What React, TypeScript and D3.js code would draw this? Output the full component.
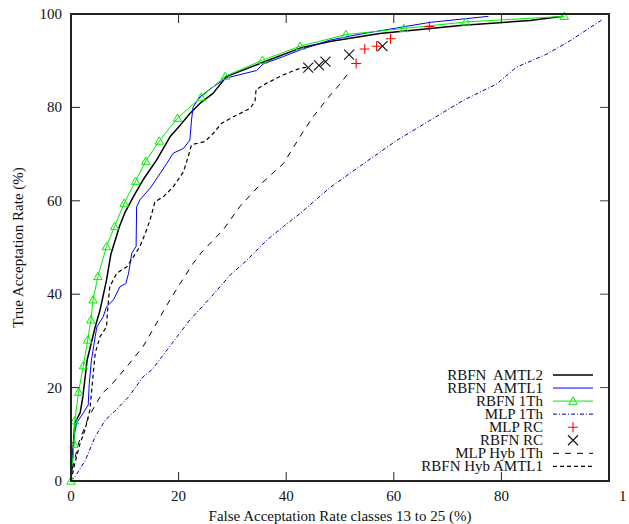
import React from "react";
import * as d3 from "d3";

type P = [number, number];

const xTicks = [0, 20, 40, 60, 80, 100];
const yTicks = [0, 20, 40, 60, 80, 100];
const xLabel = "False Acceptation Rate classes 13 to 25 (%)";
const yLabel = "True Acceptation Rate (%)";

const rbfnAmtl2: P[] = [
  [0, 0], [0.7, 12.4], [1.7, 14.6], [2.2, 18], [3.0, 25.9], [4.5, 33], [5.4, 36.6], [6.6, 43],
  [7.4, 48.5], [9.0, 54.5], [10, 57.4], [11.6, 60.9], [13.4, 64.5], [15.9, 68.7], [18.4, 73.7],
  [20.3, 76.2], [22.1, 78.7], [24, 80.9], [26.4, 83], [28.9, 86.6], [35.1, 89.4], [42.6, 92.7],
  [48.1, 94.1], [57.4, 95.8], [72.9, 97.6], [85.3, 98.6], [91.5, 99.5],
];

const rbfnAmtl1: P[] = [
  [0, 0], [0.56, 9.5], [1.05, 12.4], [2.3, 14.6], [3.2, 16.3], [3.4, 20.9], [3.8, 25.9], [4.5, 30.9],
  [4.8, 33], [6, 35.2], [6.6, 37.3], [7.9, 38.8], [9.1, 41.6], [10.2, 42.3], [10.7, 44.5], [11.3, 48.8],
  [12.1, 50.2], [12.2, 58.7], [12.8, 60.2], [14.7, 62.7], [16.2, 65.2], [17.8, 68], [19, 70.2],
  [20.9, 71.2], [22.1, 73], [22.4, 77.3], [22.7, 80.1], [24, 82.3], [26.4, 84.4], [28.9, 86.3],
  [34.5, 87.9], [35.7, 89.3], [39.5, 90.9], [42.6, 92.3], [48.1, 94.4], [54.3, 95.8], [60.5, 97],
  [66.7, 98.2], [77.6, 99.5],
];

const rbfn1Th: P[] = [
  [0, 0], [0.56, 7.9], [0.7, 12.9], [1.4, 19], [2.3, 24.7], [3.1, 30.2], [3.7, 34.5], [4.1, 38.8],
  [5.0, 43.8], [6.6, 50.2], [8.1, 54.5], [9.9, 59.5], [12, 64.2], [13.9, 68.5], [16.4, 72.8],
  [19.8, 77.7], [24.2, 82.2], [28.7, 86.7], [35.6, 90.1], [42.6, 93.1], [51.1, 95.6], [61.9, 96.9],
  [73.4, 98.3], [91.7, 99.5],
];

const mlp1Th: P[] = [
  [0, 0], [0.8, 1], [2.7, 4.5], [4.5, 9.5], [6.4, 13.1], [8, 14.8], [10.7, 18], [13.4, 22.3],
  [15.1, 23.9], [18.8, 29.5], [22.1, 34.5], [25.8, 39.1], [29.6, 44.1], [32.7, 47.3], [36.4, 51.6],
  [39.5, 54.5], [42.6, 57.3], [48.1, 62.8], [54.3, 67.9], [60.5, 72.9], [66.7, 77.2], [72.9, 81.5],
  [79.1, 85], [82.8, 88.6], [88.4, 91.4], [92.8, 94.3], [98.9, 98.9],
];

const mlpRc: P[] = [[53, 89.4], [54.6, 92.5], [56.8, 93.1], [59.4, 94.7], [66.6, 97.3]];
const rbfnRc: P[] = [[44.1, 88.5], [46.1, 89], [47.3, 89.8], [51.7, 91.3], [57.9, 93.1]];

const mlpHyb1Th: P[] = [
  [0, 0], [0.2, 2.4], [1.4, 8.1], [3.3, 13.8], [5.8, 18.8], [7.2, 20.2], [10.4, 24.5], [13.4, 28.8],
  [15.9, 33.8], [18.4, 38.8], [20.3, 42.3], [22.7, 46.6], [24.3, 49], [28.3, 53.8], [31.4, 58.8],
  [35.1, 63.4], [39.5, 68], [42.6, 73.8], [45, 78], [48.1, 82.5], [50, 85], [52, 88],
];

const rbfnHybAmtl1: P[] = [
  [0, 0], [0.74, 3.9], [1.7, 8.1], [2.6, 10.9], [3.5, 15.2], [4.5, 27.4], [5.4, 30.9], [6.6, 33],
  [6.8, 36.6], [7.2, 41.6], [8.5, 44.5], [10.4, 45.9], [11.6, 48], [12.8, 50.2], [13.8, 53],
  [14.7, 55.9], [15.6, 59.8], [17.2, 60.9], [19, 63], [20.9, 66.2], [21.8, 69.5], [22.4, 72],
  [24.9, 72.7], [26.4, 74.4], [28, 76.6], [30.2, 78], [33.3, 79.8], [34.2, 81.3], [34.4, 83.8],
  [36.4, 85.2], [39.5, 87], [42.6, 88.4], [44, 88.6],
];

const legendLabels = [
  "RBFN  AMTL2", "RBFN  AMTL1", "RBFN 1Th", "MLP 1Th", "MLP RC", "RBFN RC", "MLP Hyb 1Th", "RBFN Hyb AMTL1",
];

const W = 626;
const H = 524;
const L = 71, R = 609, T = 14, B = 481;
const FONT = "'Liberation Serif', 'Times New Roman', serif";

const GREEN = "#00ee00";
const NAVY = "#00009c";

function Triangle({ x, y }: { x: number; y: number }) {
  const s = 4.2;
  return (
    <path
      d={`M${x},${y - s}L${x + s},${y + s * 0.75}L${x - s},${y + s * 0.75}Z`}
      fill="none"
      stroke={GREEN}
      strokeWidth={1}
    />
  );
}
function Plus({ x, y }: { x: number; y: number }) {
  const s = 5;
  return (
    <path d={`M${x - s},${y}H${x + s}M${x},${y - s}V${y + s}`} stroke="#ff0000" strokeWidth={1.1} fill="none" />
  );
}
function Cross({ x, y }: { x: number; y: number }) {
  const s = 5;
  return (
    <path d={`M${x - s},${y - s}L${x + s},${y + s}M${x - s},${y + s}L${x + s},${y - s}`} stroke="#111" strokeWidth={1.1} fill="none" />
  );
}

export default function App() {
  const x = d3.scaleLinear().domain([0, 100]).range([L, R]);
  const y = d3.scaleLinear().domain([0, 100]).range([B, T]);
  const line = d3.line<P>().x((d) => x(d[0])).y((d) => y(d[1]));

  const series = [
    { data: rbfnAmtl2, stroke: "#000", width: 1.5, dash: undefined as string | undefined },
    { data: rbfnAmtl1, stroke: "#0000ff", width: 1, dash: undefined },
    { data: rbfn1Th, stroke: GREEN, width: 1, dash: undefined },
    { data: mlp1Th, stroke: NAVY, width: 1, dash: "4,2,1,2" },
    { data: mlpHyb1Th, stroke: "#000", width: 1, dash: "6,6" },
    { data: rbfnHybAmtl1, stroke: "#000", width: 1.2, dash: "4,3" },
  ];

  const legX1 = 553, legX2 = 593, legTextX = 543;
  const legY0 = 375, legDy = 13.05;

  return (
    <svg
      width={W}
      height={H}
      style={{ position: "absolute", left: 0, top: 0, background: "#fff", overflow: "hidden" }}
      fontFamily={FONT}
    >
      <rect x={0} y={0} width={W} height={H} fill="#fff" />
      {/* ticks */}
      {xTicks.slice(1, -1).map((v) => (
        <g key={"xt" + v}>
          <line x1={x(v)} x2={x(v)} y1={B} y2={B - 9} stroke="#222" strokeWidth={1} />
          <line x1={x(v)} x2={x(v)} y1={T} y2={T + 9} stroke="#222" strokeWidth={1} />
        </g>
      ))}
      {yTicks.slice(1, -1).map((v) => (
        <g key={"yt" + v}>
          <line x1={L} x2={L + 9} y1={y(v)} y2={y(v)} stroke="#222" strokeWidth={1} />
          <line x1={R} x2={R - 9} y1={y(v)} y2={y(v)} stroke="#444" strokeWidth={1} />
        </g>
      ))}
      {/* tick labels */}
      {xTicks.map((v, i) => {
        const last = i === xTicks.length - 1;
        return (
          <text
            key={"xl" + v}
            x={last ? x(v) + 10 : x(v)}
            y={501}
            fontSize={15}
            textAnchor={last ? "start" : "middle"}
            fill="#111"
          >
            {String(v)}
          </text>
        );
      })}
      {yTicks.map((v) => (
        <text key={"yl" + v} x={62} y={y(v) + 5} fontSize={15} textAnchor="end" fill="#111">
          {String(v)}
        </text>
      ))}
      <text x={(L + R) / 2} y={521} fontSize={15} textAnchor="middle" fill="#111">
        {xLabel}
      </text>
      <text
        transform={`translate(23,${(T + B) / 2}) rotate(-90)`}
        fontSize={15}
        textAnchor="middle"
        fill="#111"
      >
        {yLabel}
      </text>

      {/* curves */}
      <g fill="none">
        {series.map((s, i) => (
          <path
            key={"s" + i}
            d={line(s.data) || ""}
            stroke={s.stroke}
            strokeWidth={s.width}
            strokeDasharray={s.dash}
            strokeLinejoin="round"
          />
        ))}
      </g>
      {rbfn1Th.map((d, i) => (
        <Triangle key={"tr" + i} x={x(d[0])} y={y(d[1])} />
      ))}
      {mlpRc.map((d, i) => (
        <Plus key={"pl" + i} x={x(d[0])} y={y(d[1])} />
      ))}
      {rbfnRc.map((d, i) => (
        <Cross key={"cr" + i} x={x(d[0])} y={y(d[1])} />
      ))}

      {/* legend */}
      {legendLabels.map((lab, i) => {
        const ly = legY0 + i * legDy;
        let sample: React.ReactNode = null;
        if (i === 0) sample = <line x1={legX1} x2={legX2} y1={ly} y2={ly} stroke="#000" strokeWidth={1.5} />;
        else if (i === 1) sample = <line x1={legX1} x2={legX2} y1={ly} y2={ly} stroke="#0000ff" strokeWidth={1} />;
        else if (i === 2)
          sample = (
            <g>
              <line x1={legX1} x2={legX2} y1={ly} y2={ly} stroke={GREEN} strokeWidth={1} />
              <Triangle x={(legX1 + legX2) / 2} y={ly} />
            </g>
          );
        else if (i === 3)
          sample = <line x1={legX1} x2={legX2} y1={ly} y2={ly} stroke={NAVY} strokeWidth={1} strokeDasharray="4,2,1,2" />;
        else if (i === 4) sample = <Plus x={(legX1 + legX2) / 2} y={ly} />;
        else if (i === 5) sample = <Cross x={(legX1 + legX2) / 2} y={ly} />;
        else if (i === 6)
          sample = <line x1={legX1} x2={legX2} y1={ly} y2={ly} stroke="#000" strokeWidth={1} strokeDasharray="6,6" />;
        else sample = <line x1={legX1} x2={legX2} y1={ly} y2={ly} stroke="#000" strokeWidth={1.2} strokeDasharray="4,3" />;
        return (
          <g key={"lg" + i}>
            <text x={legTextX} y={ly + 5} fontSize={15} textAnchor="end" fill="#111" style={{ whiteSpace: "pre" }}>
              {lab}
            </text>
            {sample}
          </g>
        );
      })}

      {/* frame */}
      <rect x={L} y={T} width={R - L} height={B - T} fill="none" stroke="#222" strokeWidth={2} />
    </svg>
  );
}
